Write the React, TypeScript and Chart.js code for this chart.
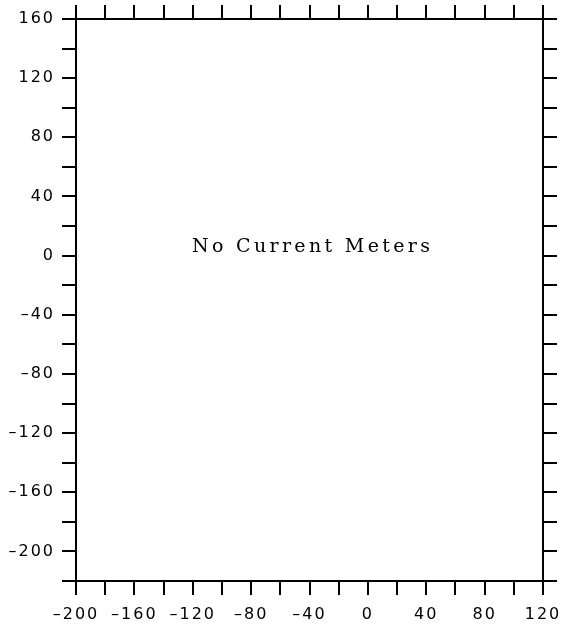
import { useEffect, useRef } from 'react';
import { Chart, registerables } from 'chart.js';

Chart.register(...registerables);

// Axis ranges and tick spacing (data units)
const X_RANGE: number[] = [-200, 120];
const Y_RANGE: number[] = [-220, 160];
const TICK_STEP = 20;
const LABEL_STEP = 40;

// No data: the plot is empty
const METER_X: number[] = [];
const METER_Y: number[] = [];

const MESSAGE = 'No Current Meters';
const MESSAGE_AT: number[] = [-39, 6];

const fmt = (v: number) =>
  v % LABEL_STEP === 0 ? (v < 0 ? '\u2013' + Math.abs(v) : String(v)) : '';

export default function App() {
  const ref = useRef<HTMLCanvasElement>(null);

  useEffect(() => {
    const canvas = ref.current!;
    const W = 562;
    const H = 628;
    const area = { left: 76, right: 543, top: 19, bottom: 581 };

    const grid = {
      drawOnChartArea: false,
      drawTicks: true,
      tickLength: 14,
      color: '#000',
      lineWidth: 2,
    };
    const border = { display: true, color: '#000', width: 2 };
    const tickFont = { family: 'DejaVu Sans', size: 16 };

    const noPad = (s: any) => {
      s.paddingLeft = 0;
      s.paddingRight = 0;
      s.paddingTop = 0;
      s.paddingBottom = 0;
    };

    const plugin = {
      id: 'msg',
      beforeDraw(chart: any) {
        chart.ctx.letterSpacing = '2px';
      },
      afterDraw(chart: any) {
        const ctx = chart.ctx;
        const xs = chart.scales.x;
        const ys = chart.scales.y;
        ctx.save();
        ctx.fillStyle = '#000';
        ctx.font = '19px "DejaVu Serif"';
        ctx.letterSpacing = '0px';
        const w0 = ctx.measureText(MESSAGE).width;
        const target = 238;
        const sp = (target - w0) / (MESSAGE.length - 1);
        ctx.letterSpacing = sp + 'px';
        ctx.textAlign = 'left';
        ctx.textBaseline = 'middle';
        const cx = xs.getPixelForValue(MESSAGE_AT[0]);
        const cy = ys.getPixelForValue(MESSAGE_AT[1]);
        ctx.fillText(MESSAGE, cx - target / 2, cy);
        ctx.restore();
      },
    };

    const chart = new Chart(canvas, {
      type: 'scatter',
      data: {
        datasets: [
          {
            data: METER_X.map((x, i) => ({ x, y: METER_Y[i] })),
            pointRadius: 2,
            backgroundColor: '#000',
          },
        ],
      },
      options: {
        responsive: false,
        animation: false,
        events: [],
        layout: { padding: 0 },
        plugins: { legend: { display: false }, tooltip: { enabled: false } },
        scales: {
          x: {
            type: 'linear',
            position: 'bottom',
            min: X_RANGE[0],
            max: X_RANGE[1],
            grid,
            border,
            ticks: {
              stepSize: TICK_STEP,
              autoSkip: false,
              maxRotation: 0,
              minRotation: 0,
              padding: 10,
              color: '#000',
              font: tickFont,
              callback: (v: any) => fmt(Number(v)),
            },
            afterFit: (s: any) => {
              s.height = H - area.bottom;
              noPad(s);
            },
          },
          x2: {
            type: 'linear',
            position: 'top',
            min: X_RANGE[0],
            max: X_RANGE[1],
            grid,
            border,
            ticks: { stepSize: TICK_STEP, autoSkip: false, display: false },
            afterFit: (s: any) => {
              s.height = area.top;
              noPad(s);
            },
          },
          y: {
            type: 'linear',
            position: 'left',
            min: Y_RANGE[0],
            max: Y_RANGE[1],
            grid,
            border,
            ticks: {
              stepSize: TICK_STEP,
              autoSkip: false,
              padding: 7,
              color: '#000',
              font: tickFont,
              callback: (v: any) => fmt(Number(v)),
            },
            afterFit: (s: any) => {
              s.width = area.left;
              noPad(s);
            },
          },
          y2: {
            type: 'linear',
            position: 'right',
            min: Y_RANGE[0],
            max: Y_RANGE[1],
            grid,
            border,
            ticks: { stepSize: TICK_STEP, autoSkip: false, display: false },
            afterFit: (s: any) => {
              s.width = W - area.right;
              noPad(s);
            },
          },
        },
      },
      plugins: [plugin],
    } as any);

    return () => chart.destroy();
  }, []);

  return (
    <div
      style={{
        position: 'fixed',
        left: 0,
        top: 0,
        width: 562,
        height: 628,
        background: '#fff',
      }}
    >
      <canvas ref={ref} width={562} height={628} style={{ display: 'block' }} />
    </div>
  );
}
